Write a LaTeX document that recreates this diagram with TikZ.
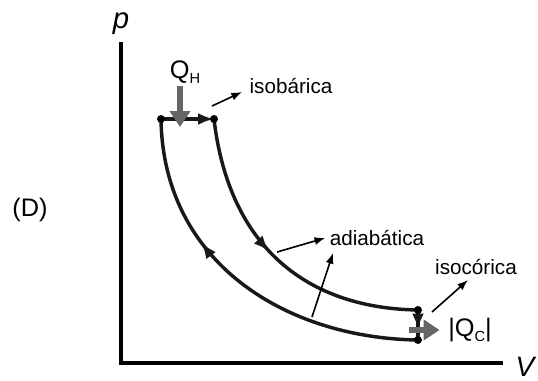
\documentclass[tikz,border=0pt]{standalone}
\usepackage{fontspec}
\setmainfont{Liberation Sans}
\usetikzlibrary{arrows.meta,decorations.markings}
\begin{document}
\begin{tikzpicture}[x=0.75pt, y=-0.75pt, >=latex,
  cyc/.style={line width=2.6pt, black!90},
  note/.style={-{Latex[length=8pt,width=6pt]}, line width=1.2pt},
  heat/.style={-{Triangle[length=12pt,width=15pt]}, line width=5pt, gray!80!black},
  lbl/.style={font=\fontsize{15.5}{18}\selectfont},
  big/.style={font=\fontsize{19}{22}\selectfont},
  dot/.style={circle, fill=black, inner sep=0pt, minimum size=6pt},
  midarrow/.style={postaction={decorate}, decoration={markings,
    mark=at position #1 with {\arrow{Latex[length=12pt,width=9pt]}}}}]
\useasboundingbox (0,0) rectangle (538,380);
% axes
\draw[line width=2.8pt] (121,42) -- (121,363) -- (503,363);
\node (p) at (121,24) {\fontsize{22}{24}\selectfont\itshape p};
\node[anchor=base] (V) at (525,376) {\fontsize{21}{24}\selectfont\itshape V};
\node[big] (D) at (30,210) {(D)};
% corners of the cycle
\coordinate (a) at (161,119);
\coordinate (b) at (214,119);
\coordinate (c) at (418,310);
\coordinate (d) at (418,340);
% cycle
\draw[cyc, -{Latex[length=12pt,width=9pt]}] (a) -- (b);
\draw[cyc, midarrow=0.47] (b) .. controls (228,240) and (300,308) .. (c);
\draw[cyc, midarrow=0.65] (c) -- (d);
\draw[cyc, midarrow=0.65] (d) .. controls (285,338) and (163,262) .. (a);
\foreach \pt in {a,b,c,d} \node[dot] at (\pt) {};
% heat in and out
\node[big] (QH) at (185,72) {Q\raisebox{-0.35ex}{\fontsize{11}{11}\selectfont H}};
\coordinate (qh) at (180,86);
\coordinate (qh2) at (180,127);
\draw[heat] (qh) -- (qh2);
\coordinate (qc) at (409,330);
\node[big] (QC) at (470,330) {|Q\raisebox{-0.35ex}{\fontsize{11}{11}\selectfont C}|};
\draw[heat, shorten >=3pt] (qc) -- (QC.west);
% labels
\node[lbl] (iso1) at (291,86) {isobárica};
\node[lbl] (adi) at (377,238) {adiabática};
\node[lbl] (iso2) at (476,267) {isocórica};
\coordinate (n1) at (212,106);
\coordinate (t1) at (242,92);
\coordinate (n2) at (277,252);
\coordinate (n3) at (312,317);
\coordinate (t3) at (333,253);
\coordinate (n4) at (432,312);
\coordinate (t4) at (468,280);
\draw[note] (n1) -- (t1);
\draw[note] (n2) -- (adi.west);
\draw[note] (n3) -- (t3);
\draw[note] (n4) -- (t4);
\end{tikzpicture}
\end{document}
